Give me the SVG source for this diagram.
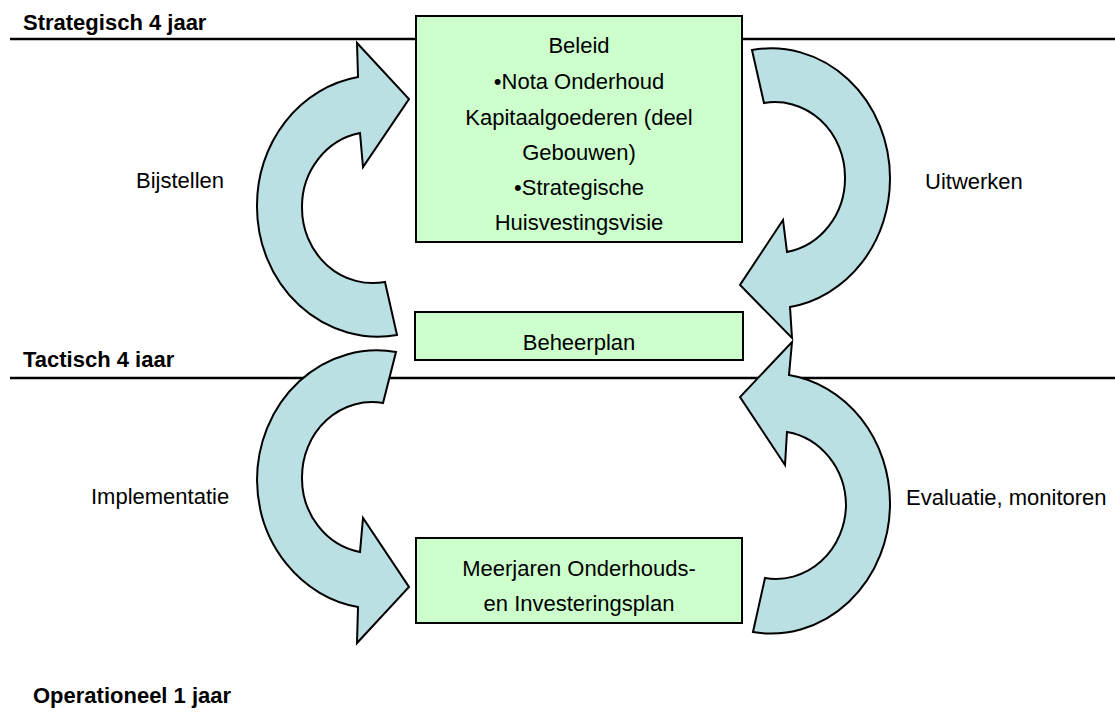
<svg xmlns="http://www.w3.org/2000/svg" width="1115" height="715" viewBox="0 0 1115 715">
<style>
.t{font-family:"Liberation Sans",Arial,sans-serif;font-size:22px;fill:#000}
.b{font-weight:bold}
.box{fill:#CCFFCC;stroke:#000;stroke-width:2}
.arr{fill:#BBE0E3;stroke:#000;stroke-width:2;stroke-linejoin:miter}
.ln{stroke:#000;stroke-width:2.5;fill:none}
</style>
<rect width="1115" height="715" fill="#fff"/>
<g id="levels">
<line class="ln" x1="10" y1="39" x2="1115" y2="39"/>
<line class="ln" x1="10" y1="378" x2="1115" y2="378"/>
<text class="t b" x="23" y="30">Strategisch 4 jaar</text>
<text class="t b" x="23" y="367">Tactisch 4 iaar</text>
<text class="t b" x="33" y="703">Operationeel 1 jaar</text>
</g>
<g id="connectors">
<path id="bijstellen-arrow" class="arr" d="M397,335 A121 130 0 0 1 257,206 A121 130 0 0 1 358,77 L357,43 L409,99 L363,167 L360,133 A71 75 0 0 0 302,208 A71 75 0 0 0 385,282 Z"/>
<path id="uitwerken-arrow" class="arr" d="M752,50 A119 130 0 0 1 890,178 A119 130 0 0 1 790,307 L792,338 L740,285 L783,220 L787,252 A70 75 0 0 0 845,177 A70 75 0 0 0 764,103 Z"/>
<path id="implementatie-arrow" class="arr" d="M396,352 A120 130 0 0 0 257,480 A120 130 0 0 0 358,607 L357,643 L409,587 L363,518 L360,552 A70 75 0 0 1 302,477 A70 75 0 0 1 383,403 Z"/>
<path id="evaluatie-arrow" class="arr" d="M753,632 A119 130 0 0 0 890,503 A119 130 0 0 0 789,375 L792,342 L740,397 L785,465 L787,432 A70 75 0 0 1 846,505 A70 75 0 0 1 765,578 Z"/>
<text class="t" x="136" y="188">Bijstellen</text>
<text class="t" x="925" y="189">Uitwerken</text>
<text class="t" x="91" y="504">Implementatie</text>
<text class="t" x="906" y="505">Evaluatie, monitoren</text>
</g>
<g id="beleid">
<rect class="box" x="416" y="16" width="326" height="226"/>
<text class="t" text-anchor="middle" x="579" y="53">Beleid</text>
<text class="t" text-anchor="middle" x="579" y="89">•Nota Onderhoud</text>
<text class="t" text-anchor="middle" x="579" y="124.5">Kapitaalgoederen (deel</text>
<text class="t" text-anchor="middle" x="579" y="160">Gebouwen)</text>
<text class="t" text-anchor="middle" x="579" y="195">•Strategische</text>
<text class="t" text-anchor="middle" x="579" y="230">Huisvestingsvisie</text>
</g>
<g id="beheerplan">
<rect class="box" x="415" y="312" width="328" height="48"/>
<text class="t" text-anchor="middle" x="579" y="350">Beheerplan</text>
</g>
<g id="meerjaren">
<rect class="box" x="416" y="538" width="326" height="85"/>
<text class="t" text-anchor="middle" x="579" y="576">Meerjaren Onderhouds-</text>
<text class="t" text-anchor="middle" x="579" y="611">en Investeringsplan</text>
</g>
</svg>
